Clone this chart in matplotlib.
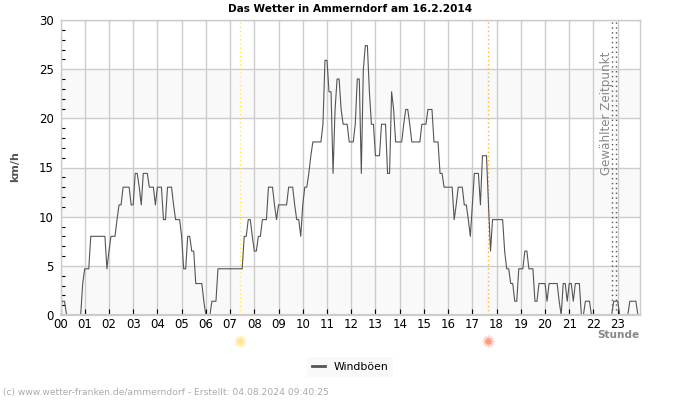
import numpy as np
import matplotlib
matplotlib.use('Agg')
import matplotlib.pyplot as plt

# gust values, one row per hour, 5 minute steps
h00 = [1, 1.4, 1.4, 0, 0, 0, 0, 0, 0, 0, 0, 3.2]
h01 = [4.7, 4.7, 4.7, 8, 8, 8, 8, 8, 8, 8, 8, 4.7]
h02 = [6.5, 8, 8, 8, 9.7, 11.2, 11.2, 13, 13, 13, 13, 11.2]
h03 = [11.2, 14.4, 14.4, 13, 11.2, 14.4, 14.4, 14.4, 13, 13, 13, 11.2]
h04 = [13, 13, 13, 9.7, 9.7, 13, 13, 13, 11.2, 9.7, 9.7, 9.7]
h05 = [8, 4.7, 4.7, 8, 8, 6.5, 6.5, 3.2, 3.2, 3.2, 3.2, 1.4]
h06 = [0, 0, 0, 1.4, 1.4, 1.4, 4.7, 4.7, 4.7, 4.7, 4.7, 4.7]
h07 = [4.7, 4.7, 4.7, 4.7, 4.7, 4.7, 4.7, 8, 8, 9.7, 9.7, 8]
h08 = [6.5, 6.5, 8, 8, 9.7, 9.7, 9.7, 13, 13, 13, 11.2, 9.7]
h09 = [11.2, 11.2, 11.2, 11.2, 11.2, 13, 13, 13, 11.2, 9.7, 9.7, 8]
h10 = [11.2, 13, 13, 14.4, 16.2, 17.6, 17.6, 17.6, 17.6, 17.6, 19.4, 25.9]
h11 = [25.9, 22.7, 22.7, 14.4, 20.9, 24, 24, 20.9, 19.4, 19.4, 19.4, 17.6]
h12 = [17.6, 17.6, 19.4, 24, 24, 14.4, 25, 27.4, 27.4, 22.7, 19.4, 19.4]
h13 = [16.2, 16.2, 16.2, 19.4, 19.4, 19.4, 14.4, 14.4, 22.7, 20.9, 17.6, 17.6]
h14 = [17.6, 17.6, 19.4, 20.9, 20.9, 19.4, 17.6, 17.6, 17.6, 17.6, 17.6, 19.4]
h15 = [19.4, 19.4, 20.9, 20.9, 20.9, 17.6, 17.6, 17.6, 14.4, 14.4, 13, 13]
h16 = [13, 13, 13, 9.7, 11.2, 13, 13, 13, 11.2, 11.2, 9.7, 8]
h17 = [11.2, 14.4, 14.4, 14.4, 11.2, 16.2, 16.2, 16.2, 11.2, 6.5, 9.7, 9.7]
h18 = [9.7, 9.7, 9.7, 9.7, 6.5, 4.7, 4.7, 3.2, 3.2, 1.4, 1.4, 4.7]
h19 = [4.7, 4.7, 6.5, 6.5, 4.7, 4.7, 4.7, 1.4, 1.4, 3.2, 3.2, 3.2]
h20 = [3.2, 1.4, 3.2, 3.2, 3.2, 3.2, 3.2, 1.4, 0, 3.2, 3.2, 1.4]
h21 = [3.2, 3.2, 1.4, 3.2, 3.2, 3.2, 0, 0, 1.4, 1.4, 1.4, 0]
h22 = [0, 0, 0, 0, 0, 0, 0, 0, 0, 0, 1.4, 1.4]
h23 = [1.4, 0, 0, 0, 0, 0, 1.4, 1.4, 1.4, 1.4, 0, 0]
gusts = h00 + h01 + h02 + h03 + h04 + h05 + h06 + h07 + h08 + h09 + h10 + h11 \
    + h12 + h13 + h14 + h15 + h16 + h17 + h18 + h19 + h20 + h21 + h22 + h23
hours = np.arange(len(gusts)) / 12.0

hour_labels = ['%02d' % i for i in range(24)]
y_ticks = [0, 5, 10, 15, 20, 25, 30]
sunrise = 7.4
sunset = 17.65
selected = [22.75, 22.93]

fig = plt.figure(figsize=(7, 4), dpi=100)
ax = fig.add_axes([60.5 / 700, 85 / 400, 579.5 / 700, 295 / 400])

for low in [0, 10, 20]:
    ax.axhspan(low, low + 5, color='#f9f9f9', lw=0, zorder=0)
ax.grid(True, color='#cccccc', lw=1)
ax.set_axisbelow(True)

ax.plot(hours, gusts, color='#555555', lw=0.8, zorder=3, label='Windböen')

ax.axvline(sunrise, color='#ffe94d', lw=1, ls=(0, (1, 2)), zorder=2)
ax.axvline(sunset, color='#ffb03b', lw=1, ls=(0, (1, 2)), zorder=2)
for s in selected:
    ax.axvline(s, color='#555555', lw=1, ls=(0, (1, 2.5)), zorder=4)

ax.set_xlim(0, 23.92)
ax.set_ylim(0, 30)
ax.set_xticks(range(24))
ax.set_xticklabels(hour_labels)
ax.set_yticks(y_ticks)
ax.set_yticks(range(31), minor=True)
ax.tick_params(axis='x', direction='in', length=4, width=0.8, labelsize=8.5, pad=2, color='black')
ax.tick_params(axis='y', which='major', length=0, labelsize=8.5, pad=5)
ax.tick_params(axis='y', which='minor', direction='in', length=3, width=0.8, color='black')
for s in ax.spines.values():
    s.set_color('#cccccc')
    s.set_linewidth(1)
    s.set_zorder(5)
# zero values are hidden behind the x axis line
ax.spines['bottom'].set_linewidth(1.6)

ax.text(22.55, 26.8, 'Gewählter Zeitpunkt', rotation=90, color='#888888', fontsize=8.6,
        ha='center', va='top', zorder=5)

# sun symbols under the axis
trans = ax.get_xaxis_transform()
for x, col, edge in [(sunrise, '#ffe68f', '#fff0b8'), (sunset, '#ff9c85', '#ffcbbd')]:
    ax.plot([x], [-0.088], marker=(12, 1, 0), ms=9, color=edge, mew=0.5, transform=trans, clip_on=False, zorder=5)
    ax.plot([x], [-0.088], marker='o', ms=4.5, color=col, mew=0, transform=trans, clip_on=False, zorder=6)

fig.text(350 / 700, 391.5 / 400, 'Das Wetter in Ammerndorf am 16.2.2014', fontsize=7.6, fontweight='bold',
         ha='center', va='center')
fig.text(15.5 / 700, 233 / 400, 'km/h', fontsize=8, fontweight='bold', color='#555555', rotation=90,
         ha='center', va='center')
fig.text(639.5 / 700, 65 / 400, 'Stunde', fontsize=7.6, fontweight='bold', color='#888888', ha='right', va='center')
fig.text(3 / 700, 7 / 400, '(c) www.wetter-franken.de/ammerndorf - Erstellt: 04.08.2024 09:40:25',
         fontsize=6.6, color='#aaaaaa', ha='left', va='center')

leg = fig.legend(loc='center', bbox_to_anchor=(350 / 700, 33 / 400), fontsize=7.8, frameon=True,
                 handlelength=1.2, handletextpad=0.8, borderpad=0.45, fancybox=False, borderaxespad=0)
leg.get_frame().set_facecolor('#f9f9f9')
leg.get_frame().set_edgecolor('none')
leg.get_frame().set_alpha(1)
leg.get_lines()[0].set_linewidth(2)

fig.savefig('out.png', dpi=100)
